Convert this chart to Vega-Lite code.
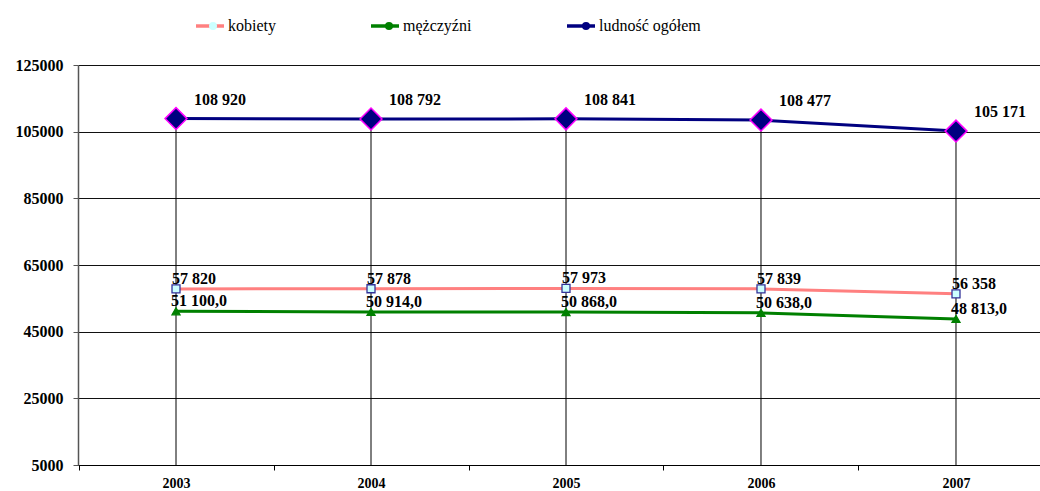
{
  "$schema": "https://vega.github.io/schema/vega-lite/v6.json",
  "width": 962,
  "height": 400,
  "padding": {"left": 78, "top": 65, "right": 0, "bottom": 26},
  "autosize": {"type": "none"},
  "background": "white",
  "config": {"view": {"stroke": null}, "font": "Liberation Serif"},
  "data": {
    "values": [
      {"year": 2003, "series": "kobiety", "value": 57820, "label": "57 820"},
      {"year": 2004, "series": "kobiety", "value": 57878, "label": "57 878"},
      {"year": 2005, "series": "kobiety", "value": 57973, "label": "57 973"},
      {"year": 2006, "series": "kobiety", "value": 57839, "label": "57 839"},
      {"year": 2007, "series": "kobiety", "value": 56358, "label": "56 358"},
      {"year": 2003, "series": "mężczyźni", "value": 51100, "label": "51 100,0"},
      {"year": 2004, "series": "mężczyźni", "value": 50914, "label": "50 914,0"},
      {"year": 2005, "series": "mężczyźni", "value": 50868, "label": "50 868,0"},
      {"year": 2006, "series": "mężczyźni", "value": 50638, "label": "50 638,0"},
      {"year": 2007, "series": "mężczyźni", "value": 48813, "label": "48 813,0"},
      {"year": 2003, "series": "ludność ogółem", "value": 108920, "label": "108 920"},
      {"year": 2004, "series": "ludność ogółem", "value": 108792, "label": "108 792"},
      {"year": 2005, "series": "ludność ogółem", "value": 108841, "label": "108 841"},
      {"year": 2006, "series": "ludność ogółem", "value": 108477, "label": "108 477"},
      {"year": 2007, "series": "ludność ogółem", "value": 105171, "label": "105 171"}
    ]
  },
  "resolve": {"axis": {"x": "independent"}},
  "encoding": {
    "x": {
      "field": "year",
      "type": "quantitative",
      "scale": {"domain": [2002.4974, 2007.4308], "nice": false, "zero": false},
      "axis": null
    },
    "y": {
      "field": "value",
      "type": "quantitative",
      "scale": {"domain": [5000, 125000], "nice": false, "zero": false},
      "axis": {
        "title": null,
        "values": [5000, 25000, 45000, 65000, 85000, 105000, 125000],
        "format": "d",
        "labelFont": "Liberation Serif",
        "labelFontWeight": "bold",
        "labelFontSize": 16,
        "labelColor": "black",
        "labelPadding": 10,
        "grid": true,
        "gridColor": "#111111",
        "gridWidth": 1,
        "domainColor": "#555555",
        "domainWidth": 1.5,
        "tickColor": "#555555",
        "tickSize": 5
      }
    }
  },
  "layer": [
    {
      "transform": [{"filter": "datum.series == 'ludność ogółem'"}],
      "mark": {"type": "rule", "color": "black", "strokeWidth": 1},
      "encoding": {
        "x": {
          "field": "year",
          "type": "quantitative",
          "scale": {"domain": [2002.4974, 2007.4308], "nice": false, "zero": false},
          "axis": {
            "orient": "bottom",
            "title": null,
            "values": [2002.5, 2003.5, 2004.5, 2005.5, 2006.5],
            "labels": false,
            "domain": false,
            "grid": false,
            "tickColor": "black",
            "tickSize": 5
          }
        },
        "y2": {"datum": 5000}
      }
    },
    {
      "mark": {"type": "line", "strokeWidth": 3},
      "encoding": {
        "x": {
          "field": "year",
          "type": "quantitative",
          "scale": {"domain": [2002.4974, 2007.4308], "nice": false, "zero": false},
          "axis": {
            "orient": "bottom",
            "title": null,
            "values": [2003, 2004, 2005, 2006, 2007],
            "format": "d",
            "labelFlush": false,
            "labelOverlap": false,
            "labelFont": "Liberation Serif",
            "labelFontWeight": "bold",
            "labelFontSize": 14,
            "labelColor": "black",
            "labelPadding": 11,
            "ticks": false,
            "grid": false,
            "domainColor": "black",
            "domainWidth": 1
          }
        },
        "color": {
          "field": "series",
          "type": "nominal",
          "scale": {"domain": ["kobiety", "mężczyźni", "ludność ogółem"], "range": ["#FF8080", "#008000", "#000080"]},
          "legend": {
            "title": null,
            "orient": "none",
            "legendX": 116,
            "legendY": -55,
            "direction": "horizontal",
            "symbolType": "stroke",
            "symbolSize": 784,
            "symbolStrokeWidth": 3.5,
            "labelFont": "Liberation Serif",
            "labelFontSize": 16,
            "labelColor": "black",
            "labelOffset": 2,
            "columnPadding": 88,
            "padding": 0
          }
        }
      }
    },
    {
      "mark": {"type": "point", "filled": true, "strokeWidth": 1.3, "opacity": 1, "size": 64},
      "encoding": {
        "fill": {
          "field": "series",
          "type": "nominal",
          "sort": ["kobiety", "mężczyźni", "ludność ogółem"],
          "scale": {"range": ["#CCFFFF", "#008000", "#000080"]},
          "legend": {
            "title": null,
            "orient": "none",
            "legendX": 116,
            "legendY": -47,
            "direction": "horizontal",
            "symbolSize": 64,
            "symbolOffset": 11,
            "labelFont": "Liberation Serif",
            "labelFontSize": 16,
            "labelOpacity": 0,
            "labelOffset": 20,
            "columnPadding": 81,
            "padding": 0,
            "encode": {
              "symbols": {
                "update": {
                  "shape": [
                    {"test": "datum.value == 'kobiety'", "value": "square"},
                    {"test": "datum.value == 'mężczyźni'", "value": "triangle-up"},
                    {"value": "diamond"}
                  ],
                  "stroke": [
                    {"test": "datum.value == 'kobiety'", "value": "#333399"},
                    {"test": "datum.value == 'mężczyźni'", "value": "#008000"},
                    {"value": "#FF00FF"}
                  ],
                  "strokeWidth": {"value": 1.2},
                  "opacity": {"value": 1}
                }
              }
            }
          }
        },
        "stroke": {
          "field": "series",
          "type": "nominal",
          "sort": ["kobiety", "mężczyźni", "ludność ogółem"],
          "scale": {"range": ["#333399", "#008000", "#FF00FF"]},
          "legend": null
        },
        "shape": {
          "field": "series",
          "type": "nominal",
          "sort": ["kobiety", "mężczyźni", "ludność ogółem"],
          "scale": {"range": ["square", "triangle-up", "diamond"]},
          "legend": null
        }
      }
    },
    {
      "transform": [{"filter": "datum.series == 'ludność ogółem'"}],
      "mark": {"type": "point", "shape": "diamond", "filled": true, "fill": "#000080", "stroke": "#FF00FF", "strokeWidth": 1.5, "size": 480, "opacity": 1}
    },
    {
      "transform": [{"filter": "datum.series == 'ludność ogółem'"}],
      "mark": {"type": "text", "font": "Liberation Serif", "fontWeight": "bold", "fontSize": 16, "dx": 44, "dy": -19, "align": "center", "baseline": "middle", "color": "black"},
      "encoding": {"text": {"field": "label"}}
    },
    {
      "transform": [{"filter": "datum.series == 'kobiety'"}],
      "mark": {"type": "text", "font": "Liberation Serif", "fontWeight": "bold", "fontSize": 16, "dx": 18, "dy": -10, "align": "center", "baseline": "middle", "color": "black"},
      "encoding": {"text": {"field": "label"}}
    },
    {
      "transform": [{"filter": "datum.series == 'mężczyźni'"}],
      "mark": {"type": "text", "font": "Liberation Serif", "fontWeight": "bold", "fontSize": 16, "dx": 23, "dy": -10, "align": "center", "baseline": "middle", "color": "black"},
      "encoding": {"text": {"field": "label"}}
    }
  ]
}
